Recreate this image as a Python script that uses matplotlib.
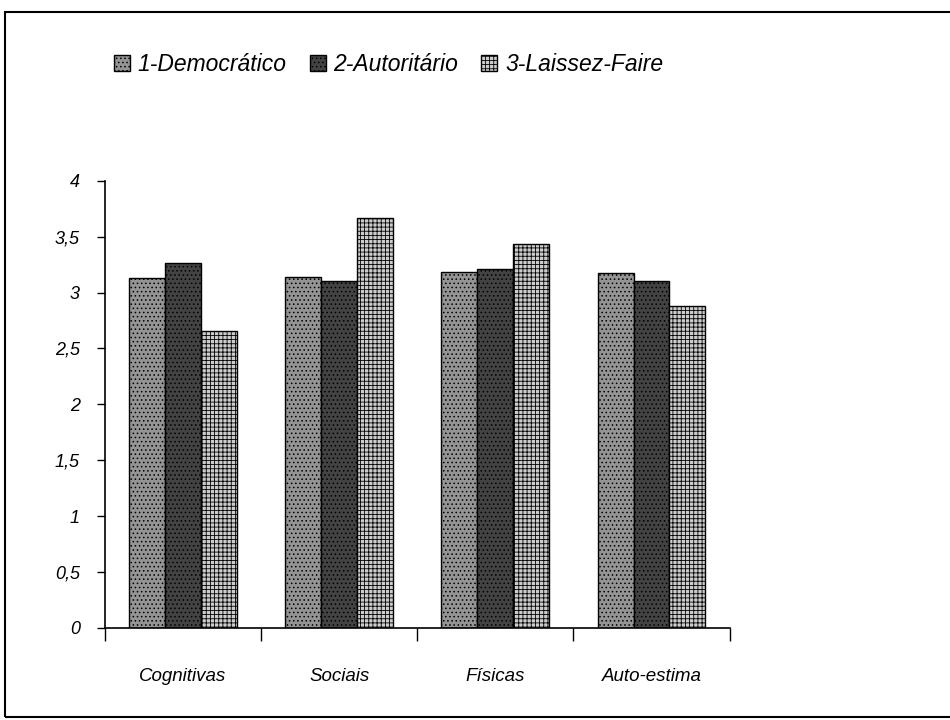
import matplotlib.pyplot as plt
import numpy as np
from matplotlib.patches import Rectangle

plt.rcParams['font.family'] = ['Liberation Sans', 'DejaVu Sans']
plt.rcParams['font.style'] = 'italic'
plt.rcParams['hatch.linewidth'] = 0.6

categorias = ['Cognitivas', 'Sociais', 'Físicas', 'Auto-estima']
series = ['1-Democrático', '2-Autoritário', '3-Laissez-Faire']
democratico = [3.13, 3.14, 3.18, 3.17]
autoritario = [3.26, 3.10, 3.21, 3.10]
laissez_faire = [2.66, 3.67, 3.43, 2.88]
y_ticks = [0, 0.5, 1, 1.5, 2, 2.5, 3, 3.5, 4]
y_labels = ['0', '0,5', '1', '1,5', '2', '2,5', '3', '3,5', '4']

cores = ['#949494', '#434343', '#cccccc']
hachuras = ['....', '....', '++++']

fig = plt.figure(figsize=(9.5, 7.2), dpi=100)
ax = fig.add_axes([0.1105, 0.128, 0.6575, 0.621])

x = np.arange(len(categorias)) + 0.5
w = 0.23
handles = []
for i, vals in enumerate([democratico, autoritario, laissez_faire]):
    b = ax.bar(x + (i - 1) * w, vals, w, color=cores[i], hatch=hachuras[i],
               edgecolor='black', linewidth=1.0, label=series[i])
    handles.append(b)

ax.set_xlim(0, len(categorias))
ax.set_ylim(0, 4)
ax.set_yticks(y_ticks)
ax.set_yticklabels(y_labels, fontsize=13)
ax.set_xticks(np.arange(len(categorias) + 1))
ax.set_xticklabels([])
ax.set_xticks(x, minor=True)
ax.set_xticklabels(categorias, minor=True, fontsize=13.5)
ax.tick_params(axis='x', which='major', direction='out', length=9, width=1)
ax.tick_params(axis='x', which='minor', length=0, pad=29)
ax.tick_params(axis='y', direction='out', length=6, width=1, pad=12)
ax.spines['top'].set_visible(False)
ax.spines['right'].set_visible(False)
ax.spines['left'].set_linewidth(1.2)
ax.spines['bottom'].set_linewidth(1.2)

fig.legend(handles=handles, labels=series, loc='center', ncol=3,
           bbox_to_anchor=(0.409, 0.91), frameon=False, fontsize=16.5,
           handlelength=0.7, handleheight=0.7, handletextpad=0.35,
           columnspacing=1.0)

# moldura externa
fig.patches.append(Rectangle((5 / 950, 3 / 720), 1.0, 705 / 720,
                             transform=fig.transFigure, fill=False,
                             edgecolor='black', linewidth=1.5))

fig.savefig('out.png', dpi=100)
